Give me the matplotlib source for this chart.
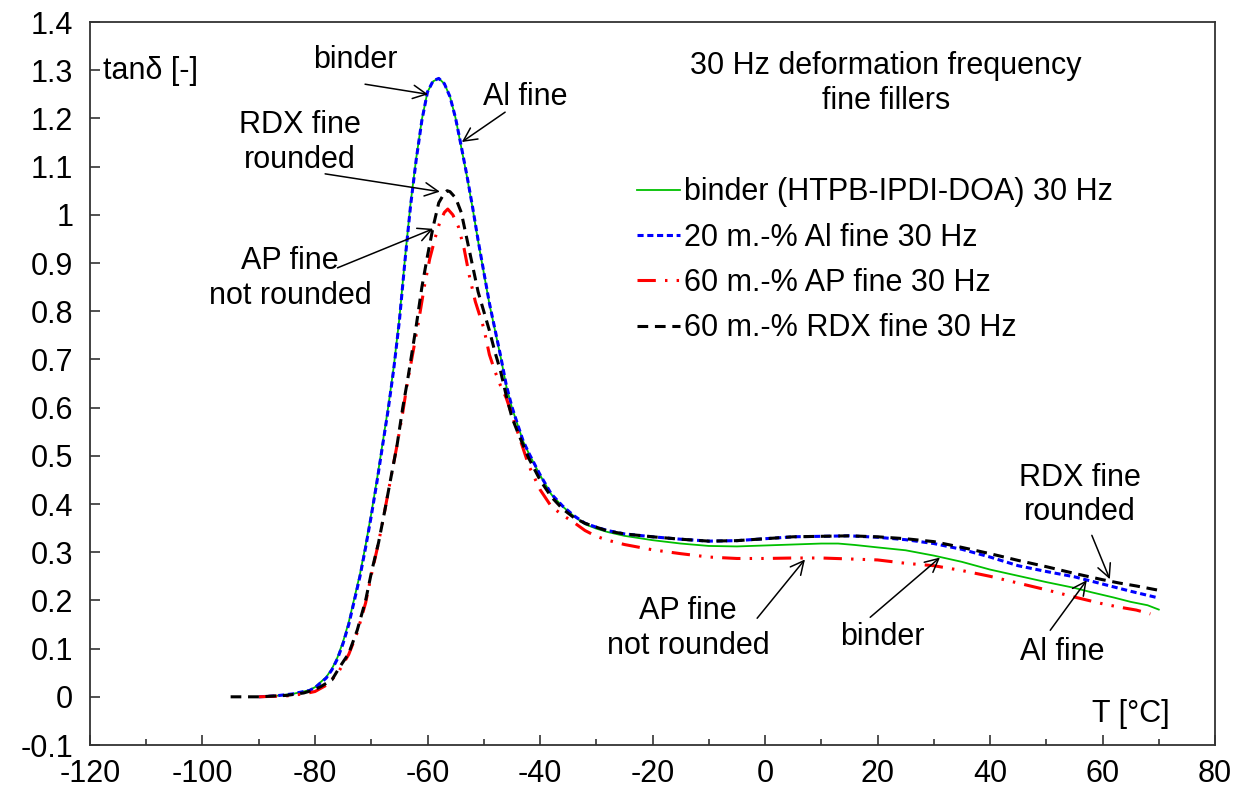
import matplotlib
matplotlib.use("Agg")
import matplotlib.pyplot as plt
from matplotlib.ticker import MultipleLocator

plt.rcParams["font.family"] = ["Liberation Sans", "DejaVu Sans"]
plt.rcParams["axes.unicode_minus"] = False
FS = 22

# tan delta vs temperature, 30 Hz
T_BINDER = [-90, -87, -84, -82, -81, -80, -78, -77, -76, -75, -74, -72, -71, -70, -69, -68,
            -67, -66, -65, -64, -63, -62, -61, -60, -59, -58, -57, -56, -55, -54, -53, -52,
            -51, -50, -49, -48, -47, -46, -45, -44, -43, -42, -40, -38, -36, -34, -32, -30,
            -28, -25, -20, -15, -10, -5, 0, 5, 10, 13, 16, 20, 25, 30, 35, 40, 45, 50, 55,
            58, 62, 65, 68, 70]
TAN_BINDER = [0.0, 0.002, 0.006, 0.011, 0.014, 0.02, 0.041, 0.058, 0.082, 0.115, 0.155,
              0.255, 0.315, 0.38, 0.45, 0.525, 0.6, 0.685, 0.785, 0.91, 1.025, 1.118, 1.198,
              1.255, 1.277, 1.283, 1.272, 1.245, 1.2, 1.14, 1.08, 1.015, 0.945, 0.88, 0.815,
              0.76, 0.705, 0.645, 0.6, 0.565, 0.53, 0.505, 0.46, 0.42, 0.395, 0.375, 0.358,
              0.349, 0.342, 0.334, 0.325, 0.318, 0.313, 0.312, 0.314, 0.316, 0.318, 0.318,
              0.315, 0.31, 0.304, 0.293, 0.28, 0.264, 0.251, 0.238, 0.226, 0.217, 0.206,
              0.197, 0.19, 0.181]

T_AL = [-90, -87, -84, -82, -81, -80, -78, -77, -76, -75, -74, -72, -71, -70, -69, -68,
        -67, -66, -65, -64, -63, -62, -61, -60, -59, -58, -57, -56, -55, -54, -53, -52,
        -51, -50, -49, -48, -47, -46, -45, -44, -43, -42, -40, -38, -36, -34, -32, -30,
        -28, -25, -20, -15, -10, -5, 0, 5, 10, 15, 20, 25, 30, 35, 40, 45, 50, 55, 58, 62,
        65, 70]
TAN_AL = [0.0, 0.002, 0.006, 0.011, 0.013, 0.019, 0.039, 0.056, 0.079, 0.111, 0.15, 0.25,
          0.31, 0.375, 0.445, 0.52, 0.595, 0.68, 0.78, 0.905, 1.02, 1.115, 1.196, 1.255,
          1.278, 1.283, 1.272, 1.245, 1.2, 1.142, 1.082, 1.017, 0.947, 0.882, 0.817, 0.762,
          0.707, 0.647, 0.602, 0.566, 0.531, 0.506, 0.461, 0.421, 0.396, 0.376, 0.36,
          0.352, 0.345, 0.338, 0.332, 0.327, 0.323, 0.324, 0.328, 0.332, 0.333, 0.334,
          0.331, 0.326, 0.318, 0.306, 0.29, 0.272, 0.26, 0.249, 0.24, 0.228, 0.219, 0.205]

T_AP = [-90, -85, -82, -80, -78, -76, -74, -72.5, -71, -70, -68.7, -67.6, -66.5, -65.4,
        -64.4, -63.6, -62.5, -61.7, -60.5, -59.6, -58.5, -57.8, -57, -56.4, -55.5, -54.5,
        -53.5, -52.5, -51.5, -50, -49, -48, -47, -46, -45, -44, -42, -40, -38, -36, -34,
        -32, -30, -28, -25, -20, -15, -10, -5, 0, 5, 10, 15, 20, 25, 30, 35, 40, 45, 50,
        55, 60, 63, 66, 68.5]
TAN_AP = [0.0, 0.002, 0.006, 0.011, 0.024, 0.048, 0.088, 0.133, 0.195, 0.252, 0.32, 0.386,
          0.455, 0.523, 0.59, 0.65, 0.72, 0.771, 0.855, 0.909, 0.958, 0.985, 1.005, 1.012,
          1.0, 0.975, 0.93, 0.87, 0.82, 0.765, 0.71, 0.675, 0.645, 0.62, 0.585, 0.55,
          0.48, 0.43, 0.395, 0.377, 0.362, 0.345, 0.333, 0.325, 0.316, 0.305, 0.297, 0.29,
          0.287, 0.287, 0.288, 0.288, 0.286, 0.284, 0.277, 0.272, 0.262, 0.25, 0.236,
          0.222, 0.207, 0.193, 0.186, 0.18, 0.172]

T_RDX = [-95, -90, -85, -82, -80, -79, -77, -75.6, -74, -72.5, -71, -69.9, -68.7, -67.6,
         -66.5, -65.4, -64.4, -63.5, -62, -61, -60, -59, -58, -57, -56.5, -56, -55, -54,
         -53, -52, -51, -50, -49, -48, -47, -46, -45, -44, -42, -40, -38, -36, -34, -32,
         -30, -28, -25, -20, -15, -10, -5, 0, 5, 10, 15, 20, 25, 30, 35, 40, 45, 50, 55,
         60, 63, 66, 70]
TAN_RDX = [0.0, 0.0, 0.003, 0.008, 0.015, 0.021, 0.035, 0.062, 0.09, 0.138, 0.2, 0.262,
           0.32, 0.386, 0.455, 0.523, 0.6, 0.66, 0.77, 0.85, 0.915, 0.975, 1.025, 1.045,
           1.05, 1.048, 1.035, 1.005, 0.95, 0.895, 0.84, 0.8, 0.76, 0.715, 0.675, 0.625,
           0.58, 0.55, 0.495, 0.45, 0.415, 0.39, 0.372, 0.36, 0.352, 0.344, 0.338, 0.332,
           0.327, 0.323, 0.324, 0.328, 0.332, 0.333, 0.334, 0.332, 0.328, 0.322, 0.31,
           0.297, 0.283, 0.27, 0.256, 0.243, 0.236, 0.23, 0.221]


def fmt_tick(v, pos):
    s = f"{v:.1f}"
    if s.endswith(".0"):
        s = s[:-2]
    return "0" if s in ("-0", "0") else s


fig = plt.figure(figsize=(12.43, 7.98), dpi=100)
ax = fig.add_axes([0.0724, 0.0664, 0.9051, 0.906])

ax.plot(T_BINDER, TAN_BINDER, color="#00c000", lw=1.3, label="binder (HTPB-IPDI-DOA) 30 Hz")
ax.plot(T_AL, TAN_AL, color="#0000ff", lw=2.2, dashes=(2.0, 1.2), label="20 m.-% Al fine 30 Hz")
ax.plot(T_AP, TAN_AP, color="#ff0000", lw=2.2, dashes=(6, 3, 0.8, 3, 0.8, 3),
        label="60 m.-% AP fine 30 Hz")
ax.plot(T_RDX, TAN_RDX, color="black", lw=2.2, dashes=(3.5, 2.2), label="60 m.-% RDX fine 30 Hz")

ax.set_xlim(-120, 80)
ax.set_ylim(-0.1, 1.4)
ax.xaxis.set_major_locator(MultipleLocator(20))
ax.xaxis.set_minor_locator(MultipleLocator(10))
ax.yaxis.set_major_locator(MultipleLocator(0.1))
ax.yaxis.set_major_formatter(fmt_tick)
ax.tick_params(axis="both", which="major", direction="in", length=7, width=1.2,
               labelsize=FS, color="#333333")
ax.tick_params(axis="x", which="major", pad=10)
ax.tick_params(axis="y", which="major", pad=12)
ax.tick_params(axis="x", which="minor", direction="in", length=4, width=1.2, color="#333333")
ax.tick_params(axis="y", which="minor", left=False)
for s in ax.spines.values():
    s.set_linewidth(1.3)
    s.set_color("#333333")

ax.text(-117.7, 1.298, "tanδ [-]", fontsize=FS, va="center", ha="left")
ax.text(72, -0.035, "T [°C]", fontsize=FS, va="center", ha="right")
ax.text(21.5, 1.273, "30 Hz deformation frequency\nfine fillers", fontsize=FS,
        ha="center", va="center", linespacing=1.2)

arrow = dict(arrowstyle="->", color="black", lw=1.1, mutation_scale=24, shrinkA=0, shrinkB=0)
notes = [
    ("binder", (-59.9, 1.25), (-72.9, 1.322), (-71.1, 1.271)),
    ("Al fine", (-53.9, 1.151), (-42.7, 1.244), (-46.2, 1.213)),
    ("RDX fine\nrounded", (-57.8, 1.048), (-82.7, 1.15), (-78.2, 1.085)),
    ("AP fine\nnot rounded", (-59.0, 0.971), (-84.4, 0.868), (-76.0, 0.89)),
    ("AP fine\nnot rounded", (7.1, 0.285), (-13.7, 0.142), (-1.4, 0.163)),
    ("binder", (31.1, 0.289), (20.8, 0.124), (18.7, 0.165)),
    ("Al fine", (57.2, 0.242), (52.8, 0.093), (50.7, 0.138)),
    ("RDX fine\nrounded", (61.3, 0.244), (56.0, 0.419), (58.1, 0.335)),
]
for txt, head, pos, tail in notes:
    ax.text(pos[0], pos[1], txt, fontsize=FS, ha="center", va="center", linespacing=1.2)
    ax.annotate("", xy=head, xytext=tail, arrowprops=arrow)

leg = ax.legend(loc="upper left", bbox_to_anchor=(0.486, 0.785), frameon=False,
                fontsize=FS, handlelength=1.4, handletextpad=0.15, labelspacing=0.5,
                borderpad=0, borderaxespad=0)

fig.savefig("out.png", dpi=100)
